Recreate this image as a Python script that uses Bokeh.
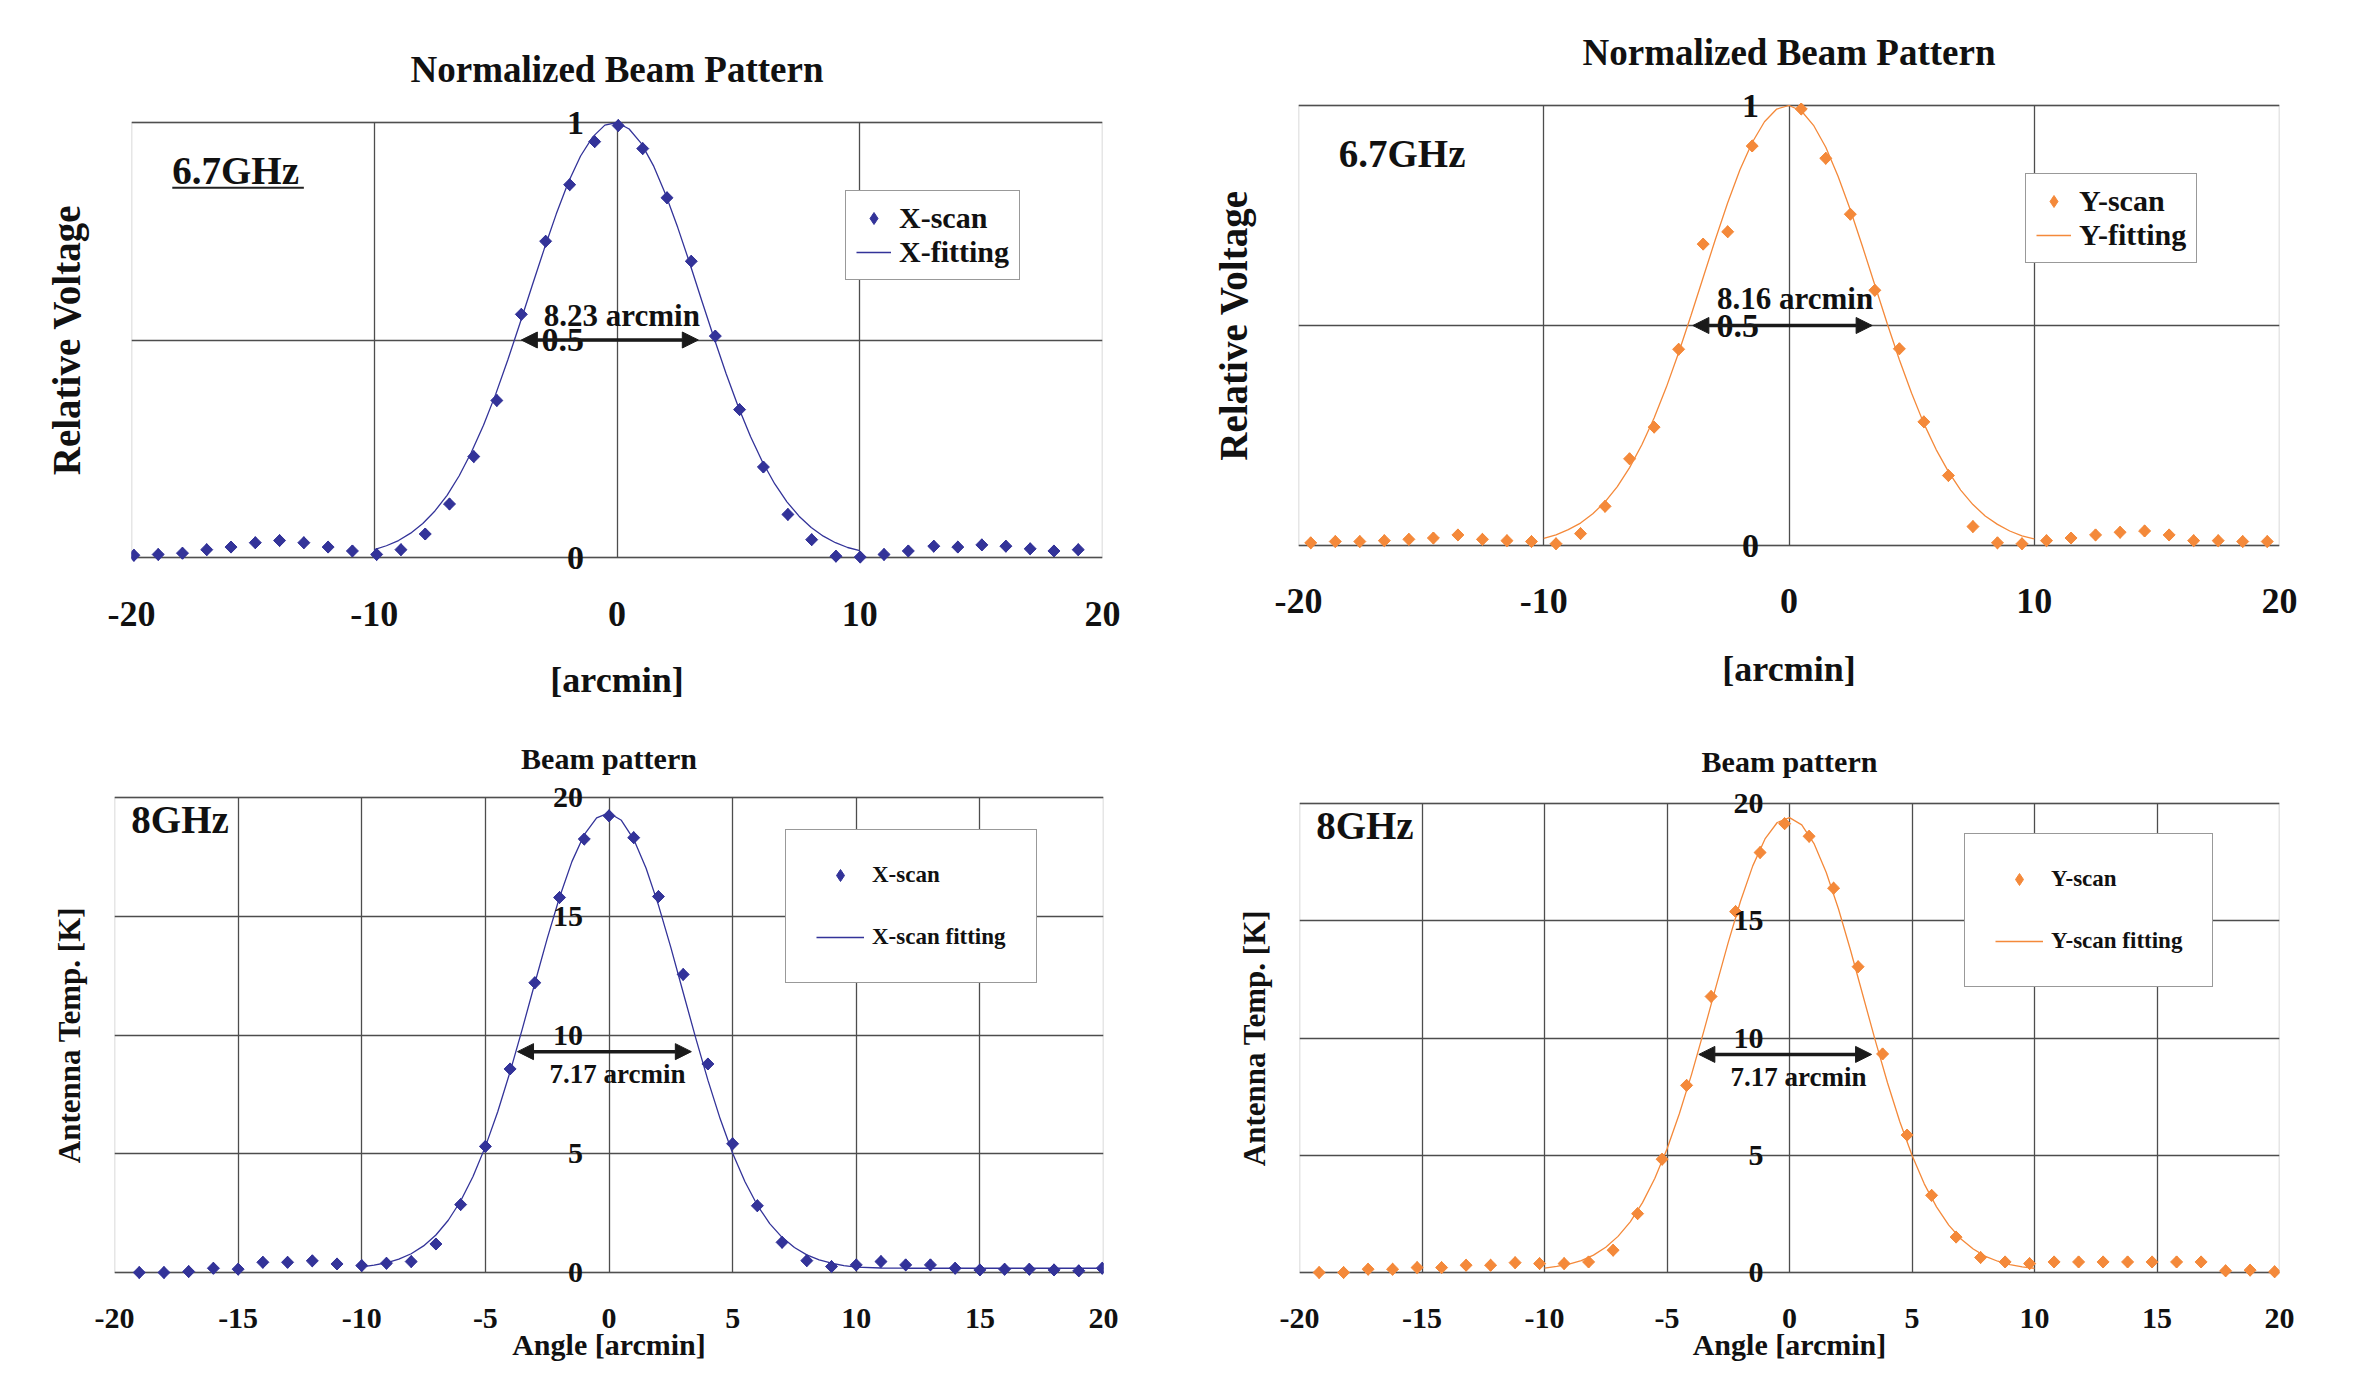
import math
from bokeh.plotting import figure
from bokeh.models import (Range1d, Label, Arrow, NormalHead, Legend, LegendItem, FixedTicker,
                          BoxAnnotation, Grid)
from bokeh.layouts import row, column
from bokeh.embed import file_html
from bokeh.resources import INLINE

FONT = "Liberation Serif"
BLUE = "#333399"
ORANGE = "#F4893A"
GRID = "#4d4d4d"
INK = "#111111"

# ---------------- data: 6.7 GHz X-scan (top left) ----------------
x_scan_67 = [-19.9, -18.9, -17.9, -16.9, -15.9, -14.9, -13.9, -12.9, -11.9, -10.9,
             -9.9, -8.9, -7.9, -6.9, -5.9, -4.95, -3.94, -2.94, -1.95, -0.92,
             0.05, 1.06, 2.06, 3.06, 4.05, 5.05, 6.03, 7.04, 8.02, 9.02,
             10.02, 11.0, 12.0, 13.05, 14.04, 15.03, 16.02, 17.02, 18.0, 19.0]
v_scan_67x = [0.005, 0.007, 0.01, 0.018, 0.024, 0.034, 0.039, 0.034, 0.024, 0.015,
              0.007, 0.018, 0.054, 0.123, 0.232, 0.361, 0.559, 0.727, 0.857, 0.956,
              0.993, 0.94, 0.827, 0.681, 0.509, 0.34, 0.208, 0.099, 0.041, 0.003,
              0.001, 0.007, 0.015, 0.026, 0.024, 0.029, 0.026, 0.02, 0.015, 0.018]

# ---------------- data: 6.7 GHz Y-scan (top right) ----------------
y_scan_67 = [-19.5, -18.5, -17.5, -16.5, -15.5, -14.5, -13.5, -12.5, -11.5, -10.5,
             -9.5, -8.5, -7.5, -6.5, -5.5, -4.5, -3.5, -2.5, -1.5,
             0.5, 1.5, 2.5, 3.5, 4.5, 5.5, 6.5, 7.5, 8.5, 9.5,
             10.5, 11.5, 12.5, 13.5, 14.5, 15.5, 16.5, 17.5, 18.5, 19.5]
v_scan_67y = [0.006, 0.009, 0.009, 0.011, 0.014, 0.017, 0.024, 0.014, 0.011, 0.009,
              0.004, 0.027, 0.089, 0.197, 0.269, 0.446, 0.685, 0.713, 0.908,
              0.992, 0.88, 0.753, 0.58, 0.447, 0.281, 0.159, 0.043, 0.006, 0.004,
              0.011, 0.017, 0.024, 0.03, 0.033, 0.024, 0.011, 0.011, 0.009, 0.009]

# fitting curves (every 0.5 arcmin)
fit_x = [-10, -9.5, -9, -8.5, -8, -7.5, -7, -6.5, -6, -5.5, -5, -4.5, -4, -3.5, -3, -2.5,
         -2, -1.5, -1, -0.5, 0, 0.5, 1, 1.5, 2, 2.5, 3, 3.5, 4, 4.5, 5, 5.5, 6, 6.5, 7,
         7.5, 8, 8.5, 9, 9.5, 10]
fit_67x = [0.018, 0.027, 0.039, 0.056, 0.078, 0.107, 0.143, 0.188, 0.242, 0.304, 0.375,
           0.454, 0.538, 0.624, 0.709, 0.790, 0.863, 0.923, 0.967, 0.994, 1.0, 0.985,
           0.952, 0.901, 0.835, 0.759, 0.676, 0.589, 0.504, 0.422, 0.346, 0.278, 0.219,
           0.169, 0.128, 0.095, 0.069, 0.049, 0.034, 0.023, 0.016]
fit_67y = [0.016, 0.024, 0.036, 0.051, 0.072, 0.099, 0.134, 0.177, 0.229, 0.290, 0.360,
           0.438, 0.522, 0.609, 0.696, 0.779, 0.854, 0.916, 0.963, 0.992, 1.0, 0.988,
           0.955, 0.905, 0.839, 0.763, 0.679, 0.592, 0.505, 0.422, 0.346, 0.277, 0.218,
           0.168, 0.126, 0.093, 0.067, 0.048, 0.033, 0.022, 0.015]

# ---------------- data: 8 GHz X-scan (bottom left) ----------------
x_scan_8 = [-19, -18, -17, -16, -15, -14, -13, -12, -11, -10,
            -9, -8, -7, -6, -5, -4, -3, -2, -1, 0,
            1, 2, 3, 4, 5, 6, 7, 8, 9, 10,
            11, 12, 13, 14, 15, 16, 17, 18, 19, 19.95]
t_scan_8x = [0.0, 0.0, 0.04, 0.18, 0.14, 0.43, 0.43, 0.49, 0.36, 0.29,
             0.39, 0.46, 1.2, 2.86, 5.31, 8.57, 12.2, 15.79, 18.25, 19.23,
             18.31, 15.83, 12.55, 8.78, 5.42, 2.81, 1.27, 0.5, 0.25, 0.32,
             0.46, 0.32, 0.32, 0.18, 0.11, 0.14, 0.14, 0.11, 0.07, 0.18]
fit8x_x = fit_x + [11, 12, 13, 14, 15, 16, 17, 18, 19, 20]
fit_8x = [0.24, 0.31, 0.41, 0.56, 0.79, 1.12, 1.58, 2.20, 3.01, 4.04, 5.30, 6.77, 8.45,
          10.28, 12.18, 14.06, 15.80, 17.30, 18.44, 19.14, 19.35, 19.04, 18.24, 17.02,
          15.47, 13.69, 11.79, 9.90, 8.10, 6.46, 5.02, 3.82, 2.83, 2.06, 1.48, 1.05,
          0.74, 0.53, 0.39, 0.29, 0.23,
          0.19, 0.18, 0.18, 0.18, 0.18, 0.18, 0.18, 0.18, 0.18, 0.18]

# ---------------- data: 8 GHz Y-scan (bottom right) ----------------
y_scan_8 = [-19.2, -18.2, -17.2, -16.2, -15.2, -14.2, -13.2, -12.2, -11.2, -10.2,
            -9.2, -8.2, -7.2, -6.2, -5.2, -4.2, -3.2, -2.2, -1.2, -0.2,
            0.8, 1.8, 2.8, 3.8, 4.8, 5.8, 6.8, 7.8, 8.8, 9.8,
            10.8, 11.8, 12.8, 13.8, 14.8, 15.8, 16.8, 17.8, 18.8, 19.8]
t_scan_8y = [0.0, 0.0, 0.14, 0.14, 0.21, 0.21, 0.31, 0.31, 0.42, 0.38,
             0.38, 0.45, 0.95, 2.51, 4.83, 7.98, 11.77, 15.39, 17.91, 19.14,
             18.6, 16.39, 13.04, 9.32, 5.86, 3.29, 1.51, 0.64, 0.45, 0.38,
             0.45, 0.45, 0.45, 0.45, 0.45, 0.45, 0.45, 0.07, 0.1, 0.03]
fit_8y = [0.19, 0.26, 0.36, 0.51, 0.74, 1.08, 1.54, 2.16, 2.98, 4.01, 5.27, 6.76, 8.44,
          10.28, 12.19, 14.08, 15.83, 17.34, 18.49, 19.19, 19.40, 19.09, 18.29, 17.06,
          15.50, 13.71, 11.80, 9.90, 8.09, 6.44, 5.00, 3.78, 2.80, 2.02, 1.43, 1.00,
          0.69, 0.48, 0.34, 0.24, 0.18]

# tick values and labels
x_ticks_top = [-20, -10, 0, 10, 20]
y_ticks_top = [0, 0.5, 1]
y_tick_labels_top = ["0", "0.5", "1"]
x_ticks_bot = [-20, -15, -10, -5, 0, 5, 10, 15, 20]
y_ticks_bot = [0, 5, 10, 15, 20]
y_tick_labels_bot = ["0", "5", "10", "15", "20"]

# FWHM annotations: (arrow x start/end, level, text)
fwhm_67x = ([-3.94, 3.35], 0.5, "8.23 arcmin")
fwhm_67y = ([-3.92, 3.39], 0.5, "8.16 arcmin")
fwhm_8x = ([-3.7, 3.33], 9.3, "7.17 arcmin")
fwhm_8y = ([-3.7, 3.35], 9.3, "7.17 arcmin")

HAS_CROSS = "cross_bounds" in Grid.properties()
PAD = 16  # px of frame kept above/below the plot area so edge labels/markers are not cut


def panel(cfg):
    ymax = cfg["ymax"]
    ypad = PAD * ymax / cfg["box_h"]
    p = figure(width=cfg["w"], height=cfg["h"], output_backend="svg", toolbar_location=None,
               x_range=Range1d(-20, 20), y_range=Range1d(-ypad, ymax + ypad),
               title=cfg["title"], frame_align=False,
               min_border_left=cfg["bl"], min_border_right=cfg["br"],
               min_border_top=cfg["bt"], min_border_bottom=cfg["bb"])
    p.background_fill_color = "white"
    p.border_fill_color = "white"
    p.outline_line_color = None

    p.title.align = "center"
    p.title.text_font = FONT
    p.title.text_font_style = "bold"
    p.title.text_font_size = cfg["title_fs"]
    p.title.text_color = INK
    p.title.standoff = cfg["title_so"]

    # plot-area box
    p.add_layout(BoxAnnotation(left=-20, right=20, bottom=0, top=ymax, fill_color=None,
                               fill_alpha=0, line_color="#555555", line_width=1.5,
                               level="underlay"))

    # grids
    if HAS_CROSS:
        p.xgrid.ticker = FixedTicker(ticks=cfg["xticks"])
        p.ygrid.ticker = FixedTicker(ticks=cfg["yticks"])
        p.xgrid.cross_bounds = (0, ymax)
        p.ygrid.cross_bounds = (-20, 20)
        for g in (p.xgrid, p.ygrid):
            g.grid_line_color = GRID
            g.grid_line_width = 1.3
    else:
        p.xgrid.visible = False
        p.ygrid.visible = False
        xt = cfg["xticks"]
        yt = cfg["yticks"]
        p.segment(x0=xt, y0=[0] * len(xt), x1=xt, y1=[ymax] * len(xt),
                  line_color=GRID, line_width=1.3, level="underlay")
        p.segment(x0=[-20] * len(yt), y0=yt, x1=[20] * len(yt), y1=yt,
                  line_color=GRID, line_width=1.3, level="underlay")

    # x axis
    xa = p.xaxis[0]
    xa.ticker = FixedTicker(ticks=cfg["xticks"])
    xa.major_label_overrides = {t: str(t) for t in cfg["xticks"]}
    xa.axis_line_color = None
    xa.major_tick_line_color = None
    xa.minor_tick_line_color = None
    xa.major_tick_out = 0
    xa.major_tick_in = 0
    xa.major_label_text_font = FONT
    xa.major_label_text_font_style = "bold"
    xa.major_label_text_font_size = cfg["tick_fs"]
    xa.major_label_text_color = INK
    xa.major_label_standoff = int(cfg["xl_so"])
    xa.axis_label = cfg["xlabel"]
    xa.axis_label_text_font = FONT
    xa.axis_label_text_font_style = "bold"
    xa.axis_label_text_font_size = cfg["xlabel_fs"]
    xa.axis_label_text_color = INK
    xa.axis_label_standoff = int(cfg["xlab_so"])

    # y axis on the left only carries the axis title; its tick labels sit at x = 0
    ya = p.yaxis[0]
    ya.ticker = FixedTicker(ticks=[])
    ya.axis_line_color = None
    ya.major_tick_line_color = None
    ya.minor_tick_line_color = None
    ya.major_tick_out = 0
    ya.major_tick_in = 0
    ya.axis_label = cfg["ylabel"]
    ya.axis_label_text_font = FONT
    ya.axis_label_text_font_style = "bold"
    ya.axis_label_text_font_size = cfg["ylabel_fs"]
    ya.axis_label_text_color = INK
    ya.axis_label_standoff = int(cfg["ylab_so"])

    for tv, tl in zip(cfg["yticks"], cfg["ylabels"]):
        p.add_layout(Label(x=0, y=tv, text=tl, x_offset=-cfg["yl_so"], text_align="right",
                           text_baseline="middle", text_font=FONT, text_font_style="bold",
                           text_font_size=cfg["ytick_fs"], text_color=INK))

    # data
    r_fit = p.line(cfg["fx"], cfg["fy"], line_color=cfg["color"], line_width=1.3)
    # diamond-shaped key (also drawn under the markers, hidden by them)
    r_key = p.scatter(cfg["px"], cfg["py"], marker="diamond", size=12,
                      fill_color=cfg["color"], line_color=cfg["color"])
    p.scatter(cfg["px"], cfg["py"], marker="square", angle=math.pi / 4,
              size=cfg["msize"], fill_color=cfg["color"], line_color=cfg["color"])

    legend = Legend(items=[LegendItem(label=cfg["leg"][0], renderers=[r_key]),
                           LegendItem(label=cfg["leg"][1], renderers=[r_fit])],
                    location=cfg["leg_loc"], margin=0)
    legend.label_text_font = FONT
    legend.label_text_font_style = "bold"
    legend.label_text_font_size = cfg["leg_fs"]
    legend.label_text_color = INK
    legend.glyph_width = cfg["leg_gw"]
    legend.glyph_height = cfg["leg_gh"]
    legend.label_height = cfg["leg_gh"]
    legend.label_standoff = 8
    legend.padding = cfg["leg_pad"]
    legend.spacing = cfg["leg_sp"]
    legend.border_line_color = "#333333"
    legend.border_line_width = 1.5
    legend.background_fill_alpha = 1.0
    p.add_layout(legend)

    # frequency label
    p.add_layout(Label(x=cfg["freq_pos"][0], y=cfg["freq_pos"][1], text=cfg["freq"],
                       text_font=FONT, text_font_style="bold", text_font_size=cfg["freq_fs"],
                       text_color=INK, text_align="left", text_baseline="alphabetic"))
    if cfg.get("underline"):
        ux, uy = cfg["underline"]
        p.line(ux, uy, line_color="#222222", line_width=2)

    # FWHM arrow + label
    (xs, lev, txt) = cfg["fwhm"]
    p.add_layout(Arrow(x_start=xs[0], y_start=lev, x_end=xs[1], y_end=lev,
                       line_width=3.5, line_color="#1a1a1a",
                       start=NormalHead(size=16, fill_color="#1a1a1a", line_color="#1a1a1a"),
                       end=NormalHead(size=16, fill_color="#1a1a1a", line_color="#1a1a1a")))
    p.add_layout(Label(x=cfg["fwhm_lab"][0], y=cfg["fwhm_lab"][1], text=txt,
                       text_font=FONT, text_font_style="bold", text_font_size=cfg["fwhm_fs"],
                       text_color=INK, text_align="center", text_baseline="alphabetic"))
    return p


H_TOP = 730
H_BOT = 1376 - H_TOP

common_top = dict(w=1177, h=H_TOP, ymax=1, title="Normalized Beam Pattern", title_fs="37px",
                  xticks=x_ticks_top, yticks=y_ticks_top, ylabels=y_tick_labels_top,
                  tick_fs="36px", ytick_fs="34px", xlabel="[arcmin]", xlabel_fs="36px",
                  ylabel="Relative Voltage", ylabel_fs="39px", ylab_so=44,
                  fx=fit_x, msize=8.5, leg_fs="30px", leg_gw=35, leg_gh=30, leg_pad=10,
                  leg_sp=0, freq_fs="39px", fwhm_fs="31px")
common_bot = dict(w=1177, h=H_BOT, ymax=20, title="Beam pattern", title_fs="30px",
                  xticks=x_ticks_bot, yticks=y_ticks_bot, ylabels=y_tick_labels_bot,
                  tick_fs="30px", ytick_fs="30px", xl_so=20, xlabel="Angle [arcmin]",
                  xlabel_fs="30px", xlab_so=-3, ylabel="Antenna Temp. [K]", ylabel_fs="31px",
                  ylab_so=28, msize=8.5, leg_fs="23px", leg_gw=48, leg_gh=30, leg_pad=30,
                  leg_sp=32, freq_fs="39px", fwhm_fs="27px")

# plot-area boxes (page px): p1 122-557, p2 105-545, p3 797-1272, p4 803-1272
p1 = panel(dict(common_top, bl=131, br=75, bt=122 - PAD, bb=H_TOP - 557 - PAD, box_h=435,
                title_so=33, xl_so=28, xlab_so=31, px=x_scan_67, py=v_scan_67x,
                fy=fit_67x, color=BLUE, leg=("X-scan", "X-fitting"), leg_loc=(714, 293),
                freq="6.7GHz", freq_pos=(-18.32, 0.89),
                underline=([-18.32, -12.9], [0.85, 0.85]), yl_so=33,
                fwhm=fwhm_67x, fwhm_lab=(0.2, 0.556)))
p2 = panel(dict(common_top, bl=121, br=75, bt=105 - PAD, bb=H_TOP - 545 - PAD, box_h=440,
                title_so=33, xl_so=27, xlab_so=33, px=y_scan_67, py=v_scan_67y,
                fy=fit_67y, color=ORANGE, leg=("Y-scan", "Y-fitting"), leg_loc=(727, 298),
                freq="6.7GHz", freq_pos=(-18.36, 0.89), yl_so=30,
                fwhm=fwhm_67y, fwhm_lab=(0.25, 0.561)))
p3 = panel(dict(common_bot, bl=114, br=74, bt=797 - H_TOP - PAD, bb=1376 - 1272 - PAD,
                box_h=475, title_so=14,
                px=x_scan_8, py=t_scan_8x,
                fx=fit8x_x, fy=fit_8x, color=BLUE, leg=("X-scan", "X-scan fitting"),
                leg_loc=(671, 305), freq="8GHz", freq_pos=(-19.32, 19.06), yl_so=26,
                fwhm=fwhm_8x, fwhm_lab=(0.34, 8.36)))
p4 = panel(dict(common_bot, bl=122, br=75, bt=803 - H_TOP - PAD, bb=1376 - 1272 - PAD,
                box_h=469, title_so=19,
                px=y_scan_8, py=t_scan_8y,
                fx=fit_x, fy=fit_8y, color=ORANGE, leg=("Y-scan", "Y-scan fitting"),
                leg_loc=(665, 301), freq="8GHz", freq_pos=(-19.32, 19.06), yl_so=26,
                fwhm=fwhm_8y, fwhm_lab=(0.37, 8.35)))

layout = column(row(p1, p2), row(p3, p4))
open("out.html", "w").write(file_html(layout, INLINE))
